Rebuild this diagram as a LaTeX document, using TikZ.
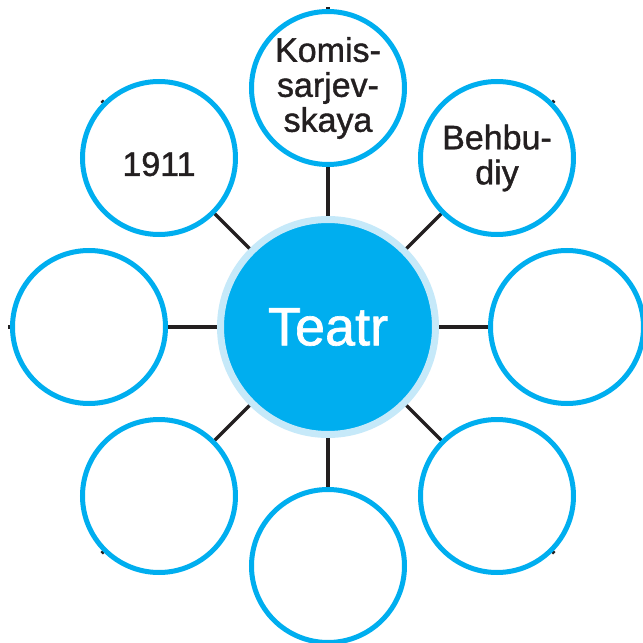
\documentclass[tikz,border=0pt]{standalone}
\usepackage{fontspec}
\setmainfont{Liberation Sans}
\newfontfamily\medfont{Liberation Sans}[FakeBold=1.2]
\usetikzlibrary{backgrounds}
\definecolor{cyanblue}{HTML}{00AEEF}
\definecolor{paleblue}{HTML}{C6E9F9}
\definecolor{inkgray}{HTML}{231F20}
\tikzset{hub/.style={circle, fill=cyanblue, draw=paleblue, line width=7pt, minimum size=215pt, inner sep=0pt, text=white, font=\medfont\fontsize{54}{54}\selectfont},
         leaf/.style={circle, fill=white, draw=cyanblue, line width=5pt, minimum size=153pt, inner sep=0pt, text=inkgray, align=center, font=\medfont\fontsize{34}{35}\selectfont},
         spoke/.style={inkgray, line width=3.2pt, shorten >=-2pt}}

\begin{document}
\begin{tikzpicture}[x=1pt,y=1pt]
   \useasboundingbox (-328,-316) rectangle (315,327);

   % centre
   \node[hub] (teatr) at (0,0) {Teatr};

   % ring of circles
   \node[leaf] (komis)    at (   0, 239) {Komis-\\sarjev-\\skaya};
   \node[leaf] (behbudiy) at ( 169, 169) {Behbu-\\diy};
   \node[leaf] (yil)      at (-169, 169) {\raisebox{-6pt}[\height][0pt]{1911}};
   \node[leaf] (chap)     at (-239,   0) {};
   \node[leaf] (ong)      at ( 239,   0) {};
   \node[leaf] (pastchap) at (-169,-169) {};
   \node[leaf] (past)     at (   0,-239) {};
   \node[leaf] (pastong)  at ( 169,-169) {};

   \begin{scope}[on background layer]
    \draw[spoke] (teatr.center) -- (komis.90);
    \draw[spoke] (teatr.center) -- (behbudiy.45);
    \draw[spoke] (teatr.center) -- (yil.135);
    \draw[spoke] (teatr.center) -- (chap.180);
    \draw[spoke] (teatr.center) -- (ong.0);
    \draw[spoke] (teatr.center) -- (pastchap.225);
    \draw[spoke] (teatr.center) -- (past.270);
    \draw[spoke] (teatr.center) -- (pastong.315);
   \end{scope}
\end{tikzpicture}
\end{document}
